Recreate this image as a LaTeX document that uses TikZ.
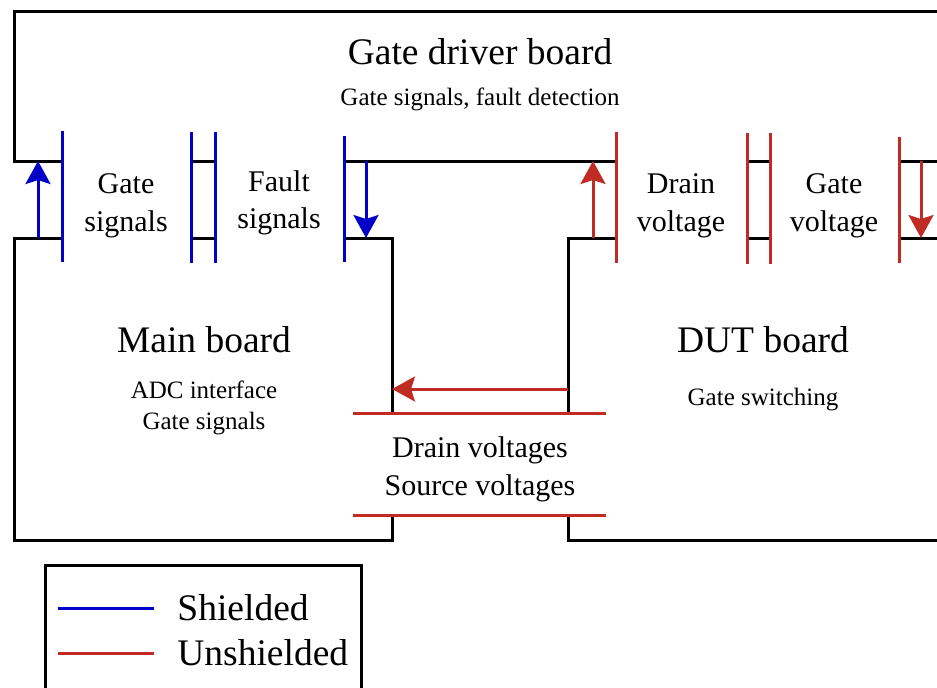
\documentclass[tikz,border=0pt]{standalone}
\usepackage{fontspec}
\setmainfont{Liberation Serif}
\usepackage{tikz}
\usetikzlibrary{arrows.meta, positioning}
\definecolor{cShield}{RGB}{0,0,200}
\definecolor{cBare}{RGB}{192,44,36}
\tikzset{
	board/.style     ={draw=black, line width=1.5pt},
	shieldln/.style  ={draw=cShield, line width=1.5pt},
	bareln/.style    ={draw=cBare, line width=1.5pt},
	sigarrow/.style  ={-{Stealth[length=11.5pt, width=12.5pt, inset=2pt]}, line width=1.5pt},
	bigtxt/.style    ={font=\fontsize{18.75}{22}\selectfont, inner sep=0pt},
	midtxt/.style    ={font=\fontsize{15}{18.75}\selectfont, align=center, inner sep=0pt},
	smalltxt/.style  ={font=\fontsize{12.5}{15.5}\selectfont, align=center, inner sep=0pt},
}
\begin{document}
\begin{tikzpicture}[x=0.5pt, y=-0.5pt]
	\clip (0,0) rectangle (937,687);
	% board outlines
	\draw[board] (960,11) -- (14,11) -- (14,161) -- (62,161);
	\draw[board] (191,161) -- (215,161) (344,161) -- (616,161) (747,161) -- (770,161) (899,161) -- (960,161);
	\draw[board] (62,238) -- (14,238) -- (14,540) -- (392,540) -- (392,515) (392,413) -- (392,238) -- (344,238) (191,238) -- (215,238);
	\draw[board] (616,238) -- (568,238) -- (568,413) (568,515) -- (568,540) -- (960,540) (747,238) -- (770,238) (899,238) -- (960,238);
	% connectors
	\draw[shieldln] (62,131) -- (62,262) (191,132) -- (191,263) (215,132) -- (215,263) (344,136) -- (344,262);
	\draw[bareln] (616,132) -- (616,263) (747,133) -- (747,264) (770,133) -- (770,264) (899,137) -- (899,263);
	\draw[bareln] (353,413) -- (606,413) (353,515) -- (606,515);
	% texts
	\node[bigtxt] (gdb) at (480,52) {Gate driver board};
	\node[smalltxt, below=11pt of gdb] (gdbsub) {Gate signals, fault detection};
	\node[bigtxt] (mb) at (204,340) {Main board};
	\node[smalltxt, below=13.5pt of mb] (mbsub) {ADC interface\\Gate signals};
	\node[bigtxt] (dut) at (763,340) {DUT board};
	\node[smalltxt, below=17pt of dut] (dutsub) {Gate switching};
	\node[midtxt] (gsig) at (126,206) {Gate\\signals};
	\node[midtxt] (fsig) at (279,203) {Fault\\signals};
	\node[midtxt] (dvolt) at (681,206) {Drain\\voltage};
	\node[midtxt] (gvolt) at (834,206) {Gate\\voltage};
	\node[midtxt] (dsv) at (480,469.5) {Drain voltages\\Source voltages};
	% arrow ends
	\coordinate (gsLo) at (38,238);  \coordinate (gsHi) at (38,161);
	\coordinate (fsHi) at (366,161); \coordinate (fsLo) at (366,238);
	\coordinate (dvLo) at (593,238); \coordinate (dvHi) at (593,161);
	\coordinate (gvHi) at (921,161); \coordinate (gvLo) at (921,238);
	\coordinate (dsR) at (568,389);  \coordinate (dsL) at (392,389);
	\draw[sigarrow, cShield] (gsLo) -- (gsHi);
	\draw[sigarrow, cShield] (fsHi) -- (fsLo);
	\draw[sigarrow, cBare] (dvLo) -- (dvHi);
	\draw[sigarrow, cBare] (gvHi) -- (gvLo);
	\draw[sigarrow, cBare] (dsR) -- (dsL);
	% legend
	\draw[board] (45,700) -- (45,565) -- (361,565) -- (361,700);
	\coordinate (lgA) at (58,608);  \coordinate (lgB) at (154,608);
	\coordinate (lgC) at (58,653);  \coordinate (lgD) at (154,653);
	\draw[shieldln] (lgA) -- (lgB);
	\draw[bareln] (lgC) -- (lgD);
	\node[bigtxt, anchor=west] (lgshield) at (177,608) {Shielded};
	\node[bigtxt, anchor=west] (lgbare) at (177,653) {Unshielded};
\end{tikzpicture}
\end{document}
